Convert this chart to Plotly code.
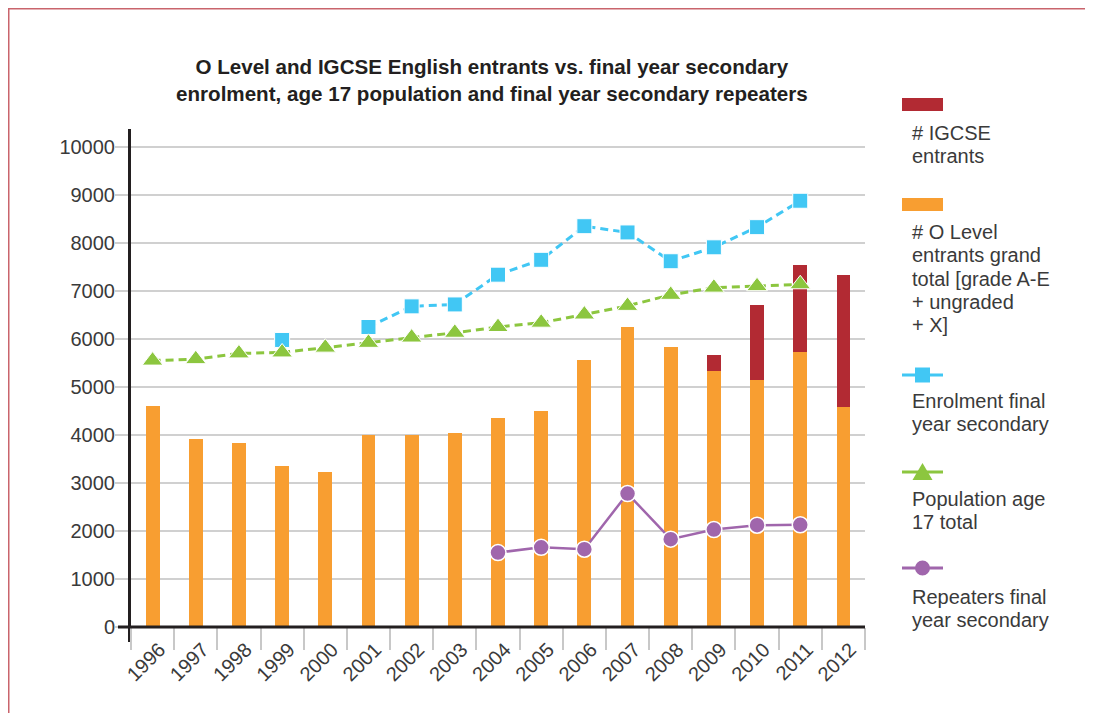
import plotly.graph_objects as go

# ---------------- data ----------------
years = [str(y) for y in range(1996, 2013)]
olevel_entrants = [4600, 3910, 3830, 3350, 3220, 3990, 3990, 4040, 4350, 4500,
                   5560, 6240, 5830, 5330, 5150, 5730, 4580]
igcse_entrants = [None, None, None, None, None, None, None, None, None, None,
                  None, None, None, 330, 1550, 1810, 2750]
enrolment_final = [None, None, None, 5980, None, 6250, 6680, 6720, 7340, 7650,
                   8350, 8220, 7620, 7910, 8330, 8880, None]
population_17 = [5550, 5580, 5700, 5720, 5820, 5920, 6030, 6130, 6250, 6340,
                 6510, 6690, 6920, 7070, 7100, 7140, None]
repeaters_final = [None, None, None, None, None, None, None, None, 1550, 1660,
                   1620, 2780, 1830, 2030, 2120, 2130, None]
y_ticks = [0, 1000, 2000, 3000, 4000, 5000, 6000, 7000, 8000, 9000, 10000]

title_lines = ["O Level and IGCSE English entrants vs. final year secondary",
               "enrolment, age 17 population and final year secondary repeaters"]
legend_igcse = ["# IGCSE", "entrants"]
legend_olevel = ["# O Level", "entrants grand", "total [grade A-E", "+ ungraded", "+ X]"]
legend_enrol = ["Enrolment final", "year secondary"]
legend_pop = ["Population age", "17 total"]
legend_rep = ["Repeaters final", "year secondary"]

# ---------------- style ----------------
ORANGE = "#F89E31"
RED = "#B22A33"
BLUE = "#41C7F4"
GREEN = "#8CC63F"
PURPLE = "#A066AC"
TEXT = "#3a3a3a"
FONT = "Liberation Sans, Arial, sans-serif"

OFF = 8                      # default page body margin
W, H = 1093 - OFF, 713 - OFF
# plot area in screen px
SL, SR, ST, SB = 131, 865, 129, 642
PL, PR, PT, PB = SL - OFF, SR - OFF, ST - OFF, SB - OFF


def px_x(p):
    return (p - SL) / (SR - SL)


def px_y(p):
    return (SB - p) / (SB - ST)


fig = go.Figure()
fig.add_trace(go.Bar(x=years, y=olevel_entrants, marker=dict(color=ORANGE, line=dict(width=0)),
                     name="# O Level entrants grand total [grade A-E + ungraded + X]"))
fig.add_trace(go.Bar(x=years, y=igcse_entrants, marker=dict(color=RED, line=dict(width=0)),
                     name="# IGCSE entrants"))
fig.add_trace(go.Scatter(x=years, y=enrolment_final, mode="lines+markers", connectgaps=False,
                         line=dict(color=BLUE, width=3, dash="8px,5px"),
                         marker=dict(symbol="square", size=15, color=BLUE,
                                     line=dict(color="white", width=1)),
                         name="Enrolment final year secondary"))
fig.add_trace(go.Scatter(x=years, y=population_17, mode="lines+markers",
                         line=dict(color=GREEN, width=3, dash="8px,5px"),
                         marker=dict(symbol="triangle-up", size=18, color=GREEN,
                                     line=dict(color="white", width=1)),
                         name="Population age 17 total"))
fig.add_trace(go.Scatter(x=years, y=repeaters_final, mode="lines+markers", connectgaps=False,
                         line=dict(color=PURPLE, width=2.5),
                         marker=dict(symbol="circle", size=16, color=PURPLE,
                                     line=dict(color="white", width=1.5)),
                         name="Repeaters final year secondary"))

# 48 px per 1000, zero at 627 px (screen)
y_bottom = -(SB - 627) / 0.048
y_top = 10000 + (147 - ST) / 0.048

shapes = []
annotations = []

# x-axis black line (extends left like the tick marks)
shapes.append(dict(type="line", xref="paper", yref="y", x0=px_x(118), x1=1, y0=0, y1=0,
                   line=dict(color="#231f20", width=3), layer="above"))

# outer border
shapes.append(dict(type="rect", xref="paper", yref="paper", x0=px_x(8.5), x1=px_x(1088),
                   y0=px_y(740), y1=px_y(8.5), line=dict(color="#C9646C", width=2),
                   fillcolor="rgba(0,0,0,0)", layer="below"))

# title
annotations.append(dict(text="<b>" + title_lines[0] + "<br>" + title_lines[1] + "</b>",
                        xref="paper", yref="paper", x=px_x(492), y=px_y(80.5),
                        xanchor="center", yanchor="middle", showarrow=False,
                        font=dict(family=FONT, size=20.6, color="#231f20")))

# ---------- custom legend ----------
LX0, LX1, LXC = 902, 943, 922.5
TX = 910


def legend_text(lines, first_center):
    for i, t in enumerate(lines):
        annotations.append(dict(text=t, xref="paper", yref="paper", x=px_x(TX),
                                y=px_y(first_center + i * 23.3), xanchor="left",
                                yanchor="middle", showarrow=False, align="left",
                                font=dict(family=FONT, size=20, color=TEXT)))


# IGCSE
shapes.append(dict(type="rect", xref="paper", yref="paper", x0=px_x(LX0), x1=px_x(LX1),
                   y0=px_y(111), y1=px_y(98), fillcolor=RED, line=dict(width=0)))
legend_text(legend_igcse, 133)
# O Level
shapes.append(dict(type="rect", xref="paper", yref="paper", x0=px_x(LX0), x1=px_x(LX1),
                   y0=px_y(211), y1=px_y(198), fillcolor=ORANGE, line=dict(width=0)))
legend_text(legend_olevel, 232)
# Enrolment
shapes.append(dict(type="line", xref="paper", yref="paper", x0=px_x(LX0), x1=px_x(LX1),
                   y0=px_y(375), y1=px_y(375), line=dict(color=BLUE, width=3)))
shapes.append(dict(type="rect", xref="paper", yref="paper", x0=px_x(LXC - 7.5), x1=px_x(LXC + 7.5),
                   y0=px_y(382.5), y1=px_y(367.5), fillcolor=BLUE, line=dict(width=0)))
legend_text(legend_enrol, 401)
# Population
shapes.append(dict(type="line", xref="paper", yref="paper", x0=px_x(LX0), x1=px_x(LX1),
                   y0=px_y(472), y1=px_y(472), line=dict(color=GREEN, width=3)))
tri = "M {a},{b} L {c},{d} L {e},{f} Z".format(a=px_x(LXC), b=px_y(463),
                                               c=px_x(LXC - 10), d=px_y(480),
                                               e=px_x(LXC + 10), f=px_y(480))
shapes.append(dict(type="path", xref="paper", yref="paper", path=tri, fillcolor=GREEN,
                   line=dict(width=0)))
legend_text(legend_pop, 499)
# Repeaters
shapes.append(dict(type="line", xref="paper", yref="paper", x0=px_x(LX0), x1=px_x(LX1),
                   y0=px_y(568), y1=px_y(568), line=dict(color=PURPLE, width=3)))
shapes.append(dict(type="circle", xref="paper", yref="paper", x0=px_x(LXC - 7.5), x1=px_x(LXC + 7.5),
                   y0=px_y(575.5), y1=px_y(560.5), fillcolor=PURPLE, line=dict(width=0)))
legend_text(legend_rep, 597)

fig.update_layout(
    width=W, height=H,
    margin=dict(l=PL, r=W - PR, t=PT, b=H - PB, pad=0),
    paper_bgcolor="white", plot_bgcolor="white",
    barmode="stack", bargap=0.68,
    showlegend=False,
    font=dict(family=FONT, size=20, color=TEXT),
    shapes=shapes, annotations=annotations,
    xaxis=dict(type="category", categoryorder="array", categoryarray=years,
               range=[-0.5, len(years) - 0.5], autorange=False,
               anchor="free", position=(SB - 627) / (SB - ST),
               tickangle=-45, ticks="outside", tickson="boundaries", ticklen=22,
               tickwidth=1.5, tickcolor="#c8c8c8", showline=False, showgrid=False,
               ticklabelstandoff=6, ticklabelshift=7,
               tickfont=dict(family=FONT, size=20, color=TEXT)),
    yaxis=dict(range=[y_bottom, y_top], autorange=False, tickvals=y_ticks,
               ticktext=[str(v) for v in y_ticks],
               showgrid=True, gridcolor="#d0d0d0", gridwidth=2, zeroline=False,
               ticks="outside", ticklen=13, tickwidth=2, tickcolor="#d0d0d0",
               ticklabelstandoff=-4,
               showline=True, linecolor="#231f20", linewidth=3,
               tickfont=dict(family=FONT, size=20, color=TEXT)),
)

fig.write_html("out.html")
